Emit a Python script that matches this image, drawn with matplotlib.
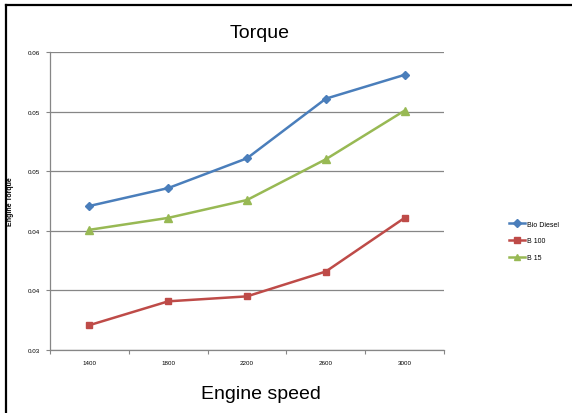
import matplotlib
matplotlib.use("Agg")
import matplotlib.pyplot as plt
from matplotlib.lines import Line2D

plt.rcParams['font.family'] = ['Liberation Sans', 'DejaVu Sans']

speeds = ["1400", "1800", "2200", "2600", "3000"]
bio_diesel = [0.0445, 0.0463, 0.0493, 0.0553, 0.0577]
b100 = [0.0325, 0.0349, 0.0354, 0.0379, 0.0433]
b15 = [0.0421, 0.0433, 0.0451, 0.0492, 0.0541]
y_ticks = [0.030, 0.036, 0.042, 0.048, 0.054, 0.060]
y_tick_labels = ["0.03", "0.04", "0.04", "0.05", "0.05", "0.06"]

series = [
    ("Bio Diesel", bio_diesel, "#4a7ebb", "D", 4.0),
    ("B 100", b100, "#be4b48", "s", 5.0),
    ("B 15", b15, "#98b954", "^", 5.5),
]

fig = plt.figure(figsize=(5.72, 4.14), dpi=100)
ax = fig.add_axes([50 / 572, 63 / 414, 394 / 572, 298 / 414])

x = list(range(len(speeds)))
handles = []
for name, vals, color, marker, ms in series:
    ln, = ax.plot(x, vals, color=color, marker=marker, markersize=ms,
                  linewidth=1.8, markeredgecolor=color, label=name, zorder=3)
    handles.append(ln)

ax.set_xlim(-0.5, len(speeds) - 0.5)
ax.set_ylim(0.030, 0.060)
ax.set_yticks(y_ticks)
ax.set_yticklabels(y_tick_labels)
ax.set_xticks(x)
ax.set_xticklabels(speeds)
ax.set_xticks([i - 0.5 for i in range(len(speeds) + 1)], minor=True)

ax.grid(axis='y', color="#868686", linewidth=0.9, zorder=1)
ax.tick_params(axis='x', which='major', length=0, labelsize=4.5, pad=7, colors='black')
ax.tick_params(axis='x', which='minor', length=3, color="#868686", width=0.8)
ax.tick_params(axis='y', length=3, color="#868686", width=0.8, labelsize=4.5, pad=4)
for side in ("top", "right"):
    ax.spines[side].set_visible(False)
for side in ("left", "bottom"):
    ax.spines[side].set_color("#868686")
    ax.spines[side].set_linewidth(0.9)

ax.set_ylabel("Engine Torque", fontsize=5, fontweight='bold', labelpad=10)

fig.text(260 / 572, 1 - 33 / 414, "Torque", fontsize=14, ha='center', va='center')
fig.text(261 / 572, 1 - 395 / 414, "Engine speed", fontsize=14, ha='center', va='center')

fig.legend(handles=handles, loc='center left', bbox_to_anchor=(503 / 572, 1 - 242 / 414),
           frameon=False, fontsize=5, handlelength=2.2, handletextpad=0.3,
           labelspacing=1.4, markerscale=0.9)

# outer frame: left and top edges
fig.add_artist(Line2D([6 / 572, 6 / 572], [0, 1 - 5.5 / 414], transform=fig.transFigure,
                      color='black', linewidth=1.6))
fig.add_artist(Line2D([6 / 572, 1], [1 - 5.5 / 414, 1 - 5.5 / 414], transform=fig.transFigure,
                      color='black', linewidth=1.6))

fig.savefig("out.png", dpi=100)
